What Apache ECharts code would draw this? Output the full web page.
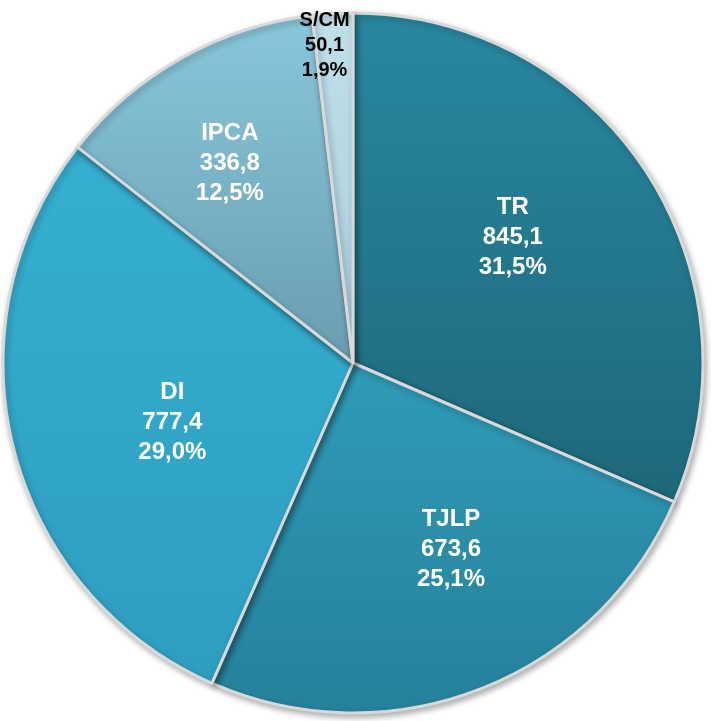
<!DOCTYPE html>
<html>
<head>
<meta charset="utf-8">
<script src="https://cdn.jsdelivr.net/npm/echarts@6/dist/echarts.min.js"></script>
<style>
  html, body { margin: 0; padding: 0; background: #fff; }
  #chart { width: 711px; height: 721px; }
</style>
</head>
<body>
<div id="chart"></div>
<script>
// dados
const categories = ['TR', 'TJLP', 'DI', 'IPCA', 'S/CM'];
const values = [845.1, 673.6, 777.4, 336.8, 50.1];
const shares = ['31,5%', '25,1%', '29,0%', '12,5%', '1,9%'];

// cores (topo -> base)
const topColors = ['#28889f', '#2f9cb8', '#35afd1', '#89c7dc', '#c0e0ea'];
const bottomColors = ['#1e677a', '#26809a', '#2e9ebf', '#6a9db0', '#a8cfdc'];
const labelOffsets = [[11, -28], [33, 21], [-8, 16], [-36, -44], [-18, -140]];

const font = '"Liberation Sans Narrow", "Arial Narrow", "Liberation Sans", Arial, sans-serif';

const fmt = v => v.toFixed(1).replace('.', ',');

const data = categories.map((name, i) => ({
  name: name,
  value: values[i],
  itemStyle: {
    color: new echarts.graphic.LinearGradient(0, 0, 0, 1, [
      { offset: 0, color: topColors[i] },
      { offset: 1, color: bottomColors[i] }
    ])
  },
  label: {
    offset: labelOffsets[i],
    color: i === 4 ? '#000' : '#fff',
    fontSize: i === 4 ? 20 : 24,
    lineHeight: i === 4 ? 25 : 30
  }
}));

const chart = echarts.init(document.getElementById('chart'));
chart.setOption({
  animation: false,
  series: [{
    type: 'pie',
    center: [353, 363],
    radius: [0, 350],
    startAngle: 90,
    clockwise: true,
    data: data,
    itemStyle: {
      borderColor: '#d9d9d9',
      borderWidth: 3,
      shadowBlur: 6,
      shadowColor: 'rgba(0,0,0,0.3)',
      shadowOffsetX: 2,
      shadowOffsetY: 3
    },
    label: {
      show: true,
      position: 'inside',
      fontFamily: font,
      fontWeight: 'bold',
      formatter: p => p.name + '\n' + fmt(p.value) + '\n' + shares[p.dataIndex]
    },
    labelLine: { show: false },
    emphasis: { disabled: true }
  }]
});
</script>
</body>
</html>
